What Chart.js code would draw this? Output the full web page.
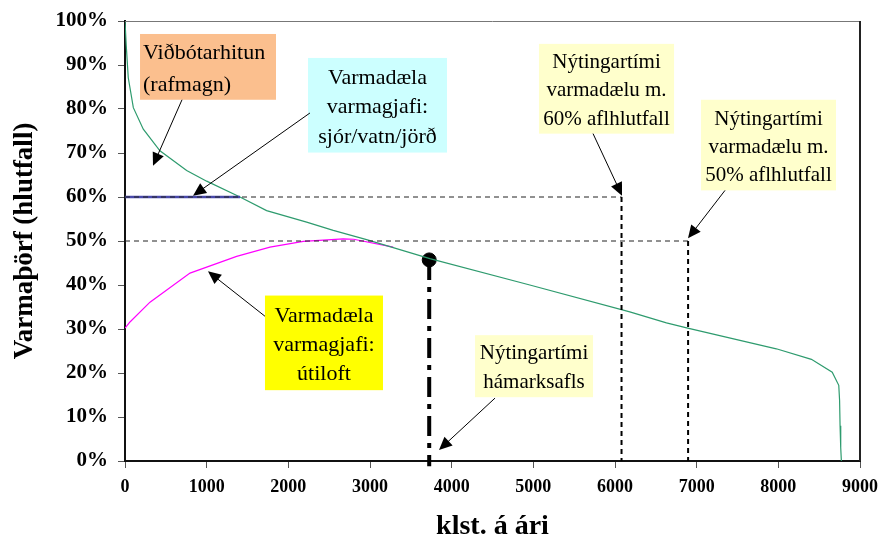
<!DOCTYPE html>
<html>
<head>
<meta charset="utf-8">
<script src="https://cdn.jsdelivr.net/npm/chart.js@4"></script>
<style>
  body { margin: 0; background: #ffffff; }
</style>
</head>
<body>
<canvas id="myChart" width="880" height="544"></canvas>
<script>
// heat demand duration curve (hours per year vs share of peak demand)
var demandHours = [0, 15, 40, 102, 224, 428, 755, 1000, 1408, 1734, 2224, 2550, 2958, 3733, 4957, 6181, 6630, 6890, 7975, 8405, 8660, 8740, 8750, 8756, 8764, 8772];
var demandPct = [100, 94.5, 87.1, 80.3, 75.4, 70.5, 66, 63.6, 60, 56.9, 54.3, 52.4, 50.3, 46, 40, 33.9, 31.4, 30.2, 25.5, 23.1, 20.2, 17.2, 13.8, 8, 3, 0];

// air source heat pump capacity curve
var airHours = [0, 61, 306, 796, 1367, 1775, 2183, 2672, 2800, 3284];
var airPct = [30.2, 31.6, 36.1, 42.7, 46.5, 48.6, 49.9, 50.5, 50.4, 48.6];

// ground/sea/water heat pump at 60% and the limits
var groundHours = [0, 1408];
var groundPct = [60, 60];
var use60Hours = 6080;
var use50Hours = 6895;
var peakHours = 3725;
var peakPct = 45.7;

var xTicks = [0, 1000, 2000, 3000, 4000, 5000, 6000, 7000, 8000, 9000];
var yTicks = [0, 10, 20, 30, 40, 50, 60, 70, 80, 90, 100];

var serif = '"Liberation Serif", "Times New Roman", serif';

// text boxes: [left hours, right hours, top %, bottom %]
var notes = [
    { box: [184, 1849, 97.05, 82.1], lines: ['Viðbótarhitun', '(rafmagn)'], fill: '#fbbf8e', size: 22, lh: 32, align: 'left',
      arrow: [698, 82.1, 343, 67.1] },
    { box: [2241, 3943, 91.6, 70.1], lines: ['Varmadæla', 'varmagjafi:', 'sjór/vatn/jörð'], fill: '#ccffff', size: 22, lh: 29.5, align: 'center',
      arrow: [2265, 79.1, 833, 60.3] },
    { box: [1714, 3159, 37.6, 16.1], lines: ['Varmadæla', 'varmagjafi:', 'útiloft'], fill: '#ffff00', size: 22, lh: 29, align: 'center',
      arrow: [1714, 32.9, 1016, 43.1] },
    { box: [4286, 5731, 28.6, 14.5], lines: ['Nýtingartími', 'hámarksafls'], fill: '#ffffcc', size: 21, lh: 29, align: 'center',
      arrow: [4531, 14.3, 3845, 2.5] },
    { box: [5069, 6723, 94.8, 74.4], lines: ['Nýtingartími', 'varmadælu m.', '60% aflhlutfall'], fill: '#ffffcc', size: 21, lh: 28.5, align: 'center',
      arrow: [5731, 74.4, 6086, 60.3] },
    { box: [7053, 8706, 82.1, 61.5], lines: ['Nýtingartími', 'varmadælu m.', '50% aflhlutfall'], fill: '#ffffcc', size: 21, lh: 28, align: 'center',
      arrow: [7347, 61.5, 6894, 50.6] }
];

function toPoints(xs, ys) {
    return xs.map(function (x, i) { return { x: x, y: ys[i] }; });
}

// draws the frame, the text boxes and the arrows
var notesPlugin = {
    id: 'notes',
    afterDatasetsDraw: function (chart) {
        var ctx = chart.ctx;
        var xs = chart.scales.x;
        var ys = chart.scales.y;
        var area = chart.chartArea;

        ctx.save();
        ctx.strokeStyle = '#777777';
        ctx.lineWidth = 1;
        ctx.beginPath();
        ctx.moveTo(area.left, area.top + 0.5);
        ctx.lineTo(area.right, area.top + 0.5);
        ctx.stroke();
        ctx.strokeStyle = '#222222';
        ctx.lineWidth = 2;
        ctx.beginPath();
        ctx.moveTo(area.right, area.top);
        ctx.lineTo(area.right, area.bottom);
        ctx.stroke();

        notes.forEach(function (n) {
            var x0 = xs.getPixelForValue(n.box[0]);
            var x1 = xs.getPixelForValue(n.box[1]);
            var y0 = ys.getPixelForValue(n.box[2]);
            var y1 = ys.getPixelForValue(n.box[3]);
            ctx.fillStyle = n.fill;
            ctx.fillRect(x0, y0, x1 - x0, y1 - y0);

            ctx.fillStyle = '#000000';
            ctx.font = n.size + 'px ' + serif;
            ctx.textBaseline = 'middle';
            ctx.textAlign = n.align;
            var tx = n.align === 'left' ? x0 + 3 : (x0 + x1) / 2;
            var cy = (y0 + y1) / 2 + 2 - (n.lines.length - 1) * n.lh / 2;
            n.lines.forEach(function (line, i) {
                ctx.fillText(line, tx, cy + i * n.lh);
            });

            // arrow
            var ax = xs.getPixelForValue(n.arrow[0]);
            var ay = ys.getPixelForValue(n.arrow[1]);
            var bx = xs.getPixelForValue(n.arrow[2]);
            var by = ys.getPixelForValue(n.arrow[3]);
            var ang = Math.atan2(by - ay, bx - ax);
            var len = 13, half = 6;
            ctx.strokeStyle = '#000000';
            ctx.lineWidth = 1;
            ctx.beginPath();
            ctx.moveTo(ax, ay);
            ctx.lineTo(bx - Math.cos(ang) * len * 0.8, by - Math.sin(ang) * len * 0.8);
            ctx.stroke();
            ctx.beginPath();
            ctx.moveTo(bx, by);
            ctx.lineTo(bx - Math.cos(ang) * len - Math.sin(ang) * half, by - Math.sin(ang) * len + Math.cos(ang) * half);
            ctx.lineTo(bx - Math.cos(ang) * len + Math.sin(ang) * half, by - Math.sin(ang) * len - Math.cos(ang) * half);
            ctx.closePath();
            ctx.fill();
        });
        ctx.restore();
    }
};

var ctx = document.getElementById('myChart').getContext('2d');
var chart = new Chart(ctx, {
    type: 'scatter',
    data: {
        datasets: [
            {
                data: [{ x: 0, y: 60 }, { x: use60Hours, y: 60 }, { x: use60Hours, y: 0 }],
                showLine: true, borderColor: '#222222', borderWidth: 1, borderDash: [5, 4], pointRadius: 0,
                segment: { borderWidth: function (c) { return c.p0DataIndex === 1 ? 2 : 1; },
                           borderColor: function (c) { return c.p0DataIndex === 1 ? '#000000' : '#222222'; } }
            },
            {
                data: [{ x: 0, y: 50 }, { x: use50Hours, y: 50 }, { x: use50Hours, y: 0 }],
                showLine: true, borderColor: '#222222', borderWidth: 1, borderDash: [5, 4], pointRadius: 0,
                segment: { borderWidth: function (c) { return c.p0DataIndex === 1 ? 2 : 1; },
                           borderColor: function (c) { return c.p0DataIndex === 1 ? '#000000' : '#222222'; } }
            },
            {
                data: toPoints(groundHours, groundPct),
                showLine: true, borderColor: '#4848aa', borderWidth: 2.5, pointRadius: 0
            },
            {
                data: toPoints(demandHours, demandPct),
                showLine: true, borderColor: '#2e9b6e', borderWidth: 1.2, pointRadius: 0
            },
            {
                data: toPoints(airHours, airPct),
                showLine: true, borderColor: '#ff00ff', borderWidth: 1.2, pointRadius: 0
            },
            {
                data: [{ x: peakHours, y: peakPct }, { x: peakHours, y: -1.2 }],
                showLine: true, borderColor: '#000000', borderWidth: 4, borderDash: [20, 7, 5, 7],
                pointRadius: 0, clip: false
            },
            {
                data: [{ x: peakHours, y: peakPct }],
                pointRadius: 7, backgroundColor: '#000000', borderColor: '#000000'
            }
        ]
    },
    options: {
        responsive: false,
        animation: false,
        events: [],
        layout: { padding: { top: 21, right: 20, left: 0, bottom: 0 } },
        plugins: {
            legend: { display: false },
            tooltip: { enabled: false }
        },
        scales: {
            x: {
                type: 'linear',
                min: 0, max: 9000,
                afterBuildTicks: function (axis) { axis.ticks = xTicks.map(function (v) { return { value: v }; }); },
                afterFit: function (axis) { axis.height = 83; axis.paddingLeft = 0; axis.paddingRight = 0; },
                grid: { drawOnChartArea: false, tickLength: 7, color: '#555555' },
                border: { color: '#111111', width: 2 },
                ticks: { color: '#000000', padding: 9, maxRotation: 0,
                         font: { family: serif, size: 18, weight: 'bold' },
                         callback: function (v) { return String(v); } },
                title: { display: true, text: 'klst. á ári', color: '#000000', padding: { top: 0, bottom: 0 },
                         font: { family: serif, size: 28, weight: 'bold' } }
            },
            y: {
                min: 0, max: 100,
                afterBuildTicks: function (axis) { axis.ticks = yTicks.map(function (v) { return { value: v }; }); },
                afterFit: function (axis) { axis.width = 125; axis.paddingTop = 0; axis.paddingBottom = 0; },
                grid: { drawOnChartArea: false, tickLength: 7, color: '#555555' },
                border: { color: '#111111', width: 2 },
                ticks: { color: '#000000', padding: 10,
                         font: { family: serif, size: 21, weight: 'bold' },
                         callback: function (v) { return v + '%'; } },
                title: { display: true, text: 'Varmaþörf (hlutfall)', color: '#000000', padding: { top: 9, bottom: 0 },
                         font: { family: serif, size: 27, weight: 'bold' } }
            }
        }
    },
    plugins: [notesPlugin]
});
</script>
</body>
</html>
